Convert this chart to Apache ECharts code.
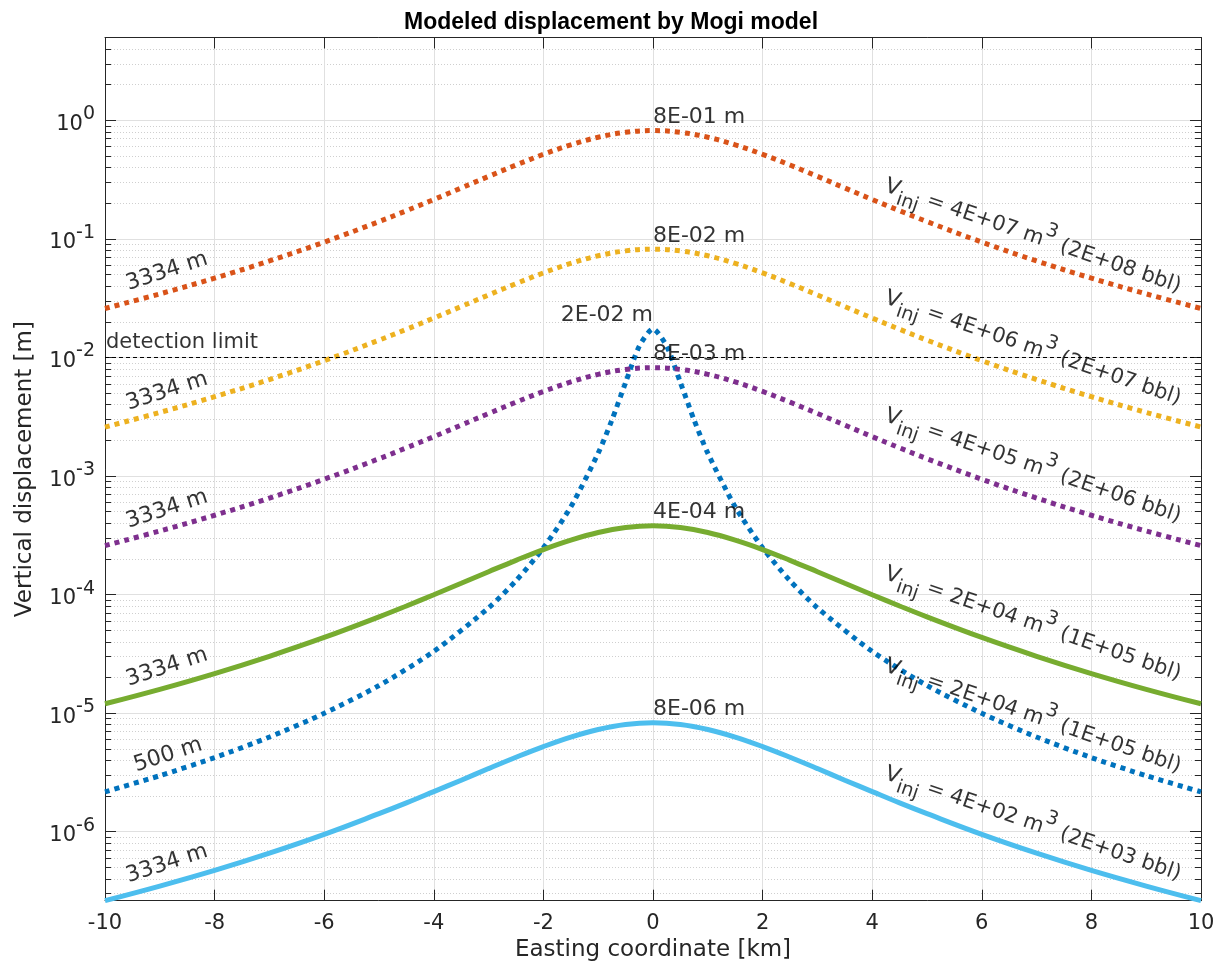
<!DOCTYPE html>
<html>
<head>
<meta charset="utf-8">
<title>Modeled displacement by Mogi model</title>
<script src="https://cdn.jsdelivr.net/npm/echarts@6/dist/echarts.min.js"></script>
<style>
  html, body { margin: 0; padding: 0; background: #fff; }
  #chart { width: 1222px; height: 968px; }
</style>
</head>
<body>
<div id="chart"></div>
<script>
// easting coordinate [km]
const eastingKm = [-10, -9, -8, -7, -6, -5, -4.5, -4, -3.5, -3, -2.5, -2, -1.5, -1, -0.5, 0,
  0.5, 1, 1.5, 2, 2.5, 3, 3.5, 4, 4.5, 5, 6, 7, 8, 9, 10];
const eastingKmShallow = [-10, -9, -8, -7, -6, -5, -4, -3, -2.5, -2, -1.5, -1, -0.75, -0.5, -0.25, 0,
  0.25, 0.5, 0.75, 1, 1.5, 2, 2.5, 3, 4, 5, 6, 7, 8, 9, 10];

// vertical displacement [m] (source depth 3334 m)
const uzVol4e7 = [0.0259, 0.0344, 0.0467, 0.0652, 0.0940, 0.140, 0.173, 0.215, 0.269, 0.337, 0.420, 0.517,
  0.622, 0.721, 0.793, 0.82, 0.793, 0.721, 0.622, 0.517, 0.420, 0.337, 0.269, 0.215, 0.173, 0.140,
  0.0940, 0.0652, 0.0467, 0.0344, 0.0259];
const uzVol4e6 = [0.00259, 0.00344, 0.00467, 0.00652, 0.00940, 0.0140, 0.0173, 0.0215, 0.0269, 0.0337, 0.0420, 0.0517,
  0.0622, 0.0721, 0.0793, 0.082, 0.0793, 0.0721, 0.0622, 0.0517, 0.0420, 0.0337, 0.0269, 0.0215, 0.0173, 0.0140,
  0.00940, 0.00652, 0.00467, 0.00344, 0.00259];
const uzVol4e5 = [2.59e-4, 3.44e-4, 4.67e-4, 6.52e-4, 9.40e-4, 1.40e-3, 1.73e-3, 2.15e-3, 2.69e-3, 3.37e-3, 4.20e-3, 5.17e-3,
  6.22e-3, 7.21e-3, 7.93e-3, 8.2e-3, 7.93e-3, 7.21e-3, 6.22e-3, 5.17e-3, 4.20e-3, 3.37e-3, 2.69e-3, 2.15e-3, 1.73e-3, 1.40e-3,
  9.40e-4, 6.52e-4, 4.67e-4, 3.44e-4, 2.59e-4];
const uzVol2e4 = [1.20e-5, 1.59e-5, 2.16e-5, 3.02e-5, 4.35e-5, 6.49e-5, 8.02e-5, 9.98e-5, 1.247e-4, 1.56e-4, 1.946e-4, 2.40e-4,
  2.88e-4, 3.34e-4, 3.675e-4, 3.8e-4, 3.675e-4, 3.34e-4, 2.88e-4, 2.40e-4, 1.946e-4, 1.56e-4, 1.247e-4, 9.98e-5, 8.02e-5, 6.49e-5,
  4.35e-5, 3.02e-5, 2.16e-5, 1.59e-5, 1.20e-5];
const uzVol4e2 = [2.62e-7, 3.48e-7, 4.72e-7, 6.60e-7, 9.51e-7, 1.42e-6, 1.75e-6, 2.18e-6, 2.72e-6, 3.41e-6, 4.25e-6, 5.23e-6,
  6.29e-6, 7.29e-6, 8.03e-6, 8.3e-6, 8.03e-6, 7.29e-6, 6.29e-6, 5.23e-6, 4.25e-6, 3.41e-6, 2.72e-6, 2.18e-6, 1.75e-6, 1.42e-6,
  9.51e-7, 6.60e-7, 4.72e-7, 3.48e-7, 2.62e-7];
// source depth 500 m
const uzShallow2e4 = [2.17e-6, 2.97e-6, 4.22e-6, 6.29e-6, 9.97e-6, 1.71e-5, 3.32e-5, 7.73e-5, 1.31e-4, 2.48e-4,
  5.50e-4, 1.56e-3, 2.97e-3, 6.15e-3, 1.245e-2, 1.74e-2, 1.245e-2, 6.15e-3, 2.97e-3, 1.56e-3, 5.50e-4,
  2.48e-4, 1.31e-4, 7.73e-5, 3.32e-5, 1.71e-5, 9.97e-6, 6.29e-6, 4.22e-6, 2.97e-6, 2.17e-6];

const detectionLimit = 0.01;

const yMajorTicks = [1e-6, 1e-5, 1e-4, 1e-3, 1e-2, 1e-1, 1];
const yMinorSteps = [2, 3, 4, 5, 6, 7, 8, 9];
const yMin = 2.62e-7;
const yMax = 5;

// text labels: [x km, y m]
const depthLabels = [
  { text: '3334 m', at: [-8.87, 0.0531] },
  { text: '3334 m', at: [-8.87, 0.00518] },
  { text: '3334 m', at: [-8.87, 5.24e-4] },
  { text: '3334 m', at: [-8.87, 2.44e-5] },
  { text: '500 m', at: [-8.85, 4.43e-6] },
  { text: '3334 m', at: [-8.87, 5.36e-7] }
];
const volumeLabels = [
  { m3: '4E+07', bbl: '2E+08', at: [6.93, 0.105] },
  { m3: '4E+06', bbl: '2E+07', at: [6.93, 0.01193] },
  { m3: '4E+05', bbl: '2E+06', at: [6.93, 1.21e-3] },
  { m3: '2E+04', bbl: '1E+05', at: [6.93, 5.65e-5] },
  { m3: '2E+04', bbl: '1E+05', at: [6.93, 9.4e-6] },
  { m3: '4E+02', bbl: '2E+03', at: [6.93, 1.16e-6] }
];
const peakLabels = [
  { text: '8E-01 m', at: [0, 1.054], side: 'right' },
  { text: '8E-02 m', at: [0, 0.1048], side: 'right' },
  { text: '2E-02 m', at: [0, 0.02254], side: 'left' },
  { text: '8E-03 m', at: [0, 0.01062], side: 'right' },
  { text: '4E-04 m', at: [0, 4.91e-4], side: 'right' },
  { text: '8E-06 m', at: [0, 1.08e-5], side: 'right' }
];

const FONT = 'DejaVu Sans';
const AXIS_COLOR = '#262626';

let yMinorTicks = [];
yMajorTicks.concat([1e-7]).forEach(d => {
  yMinorSteps.forEach(k => {
    const v = k * d;
    if (v >= yMin && v <= yMax) yMinorTicks.push(v);
  });
});

const curves = [
  { x: eastingKmShallow, y: uzShallow2e4, color: '#0072BD', dotted: true, smooth: 0.25 },
  { x: eastingKm, y: uzVol4e7, color: '#D95319', dotted: true, smooth: 0.4 },
  { x: eastingKm, y: uzVol4e6, color: '#EDB120', dotted: true, smooth: 0.4 },
  { x: eastingKm, y: uzVol4e5, color: '#7E2F8E', dotted: true, smooth: 0.4 },
  { x: eastingKm, y: uzVol2e4, color: '#77AC30', dotted: false, smooth: 0.4 },
  { x: eastingKm, y: uzVol4e2, color: '#4DBEEE', dotted: false, smooth: 0.4 }
];

const textItems = [];
depthLabels.forEach(d => textItems.push({
  value: d.at,
  label: { formatter: d.text, position: 'inside', rotate: 18, fontSize: 22 }
}));
volumeLabels.forEach(v => textItems.push({
  value: v.at,
  label: {
    formatter: '{v|V}{sub|inj}{t| = ' + v.m3 + ' m}{sup|3}{t| (' + v.bbl + ' bbl)}',
    position: 'inside',
    rotate: -19
  }
}));
peakLabels.forEach(p => textItems.push({
  value: p.at,
  label: { formatter: p.text, position: p.side, distance: 0, fontSize: 22 }
}));
textItems.push({
  value: [-10, 0.01327],
  label: { formatter: 'detection limit', position: 'right', distance: 1, fontSize: 21 }
});

const logAxis = {
  type: 'log',
  logBase: 10,
  min: yMin,
  max: yMax,
  axisLine: { show: false, onZero: false },
  axisLabel: { show: false },
  splitLine: { show: false }
};

const myChart = echarts.init(document.getElementById('chart'));
myChart.setOption({
  backgroundColor: '#fff',
  animation: false,
  title: {
    text: 'Modeled displacement by Mogi model',
    left: 'center',
    top: 6,
    textStyle: { fontFamily: 'Liberation Sans', fontWeight: 'bold', fontSize: 23, color: '#000' }
  },
  grid: { left: 105, right: 21, top: 37.5, bottom: 67.3 },
  xAxis: [
    {
      type: 'value',
      min: -10,
      max: 10,
      interval: 2,
      position: 'bottom',
      name: 'Easting coordinate [km]',
      nameLocation: 'middle',
      nameGap: 34,
      nameTextStyle: { fontFamily: FONT, fontSize: 23, color: AXIS_COLOR },
      axisLine: { show: true, onZero: false, lineStyle: { color: AXIS_COLOR, width: 1 } },
      axisTick: { inside: true, length: 11, lineStyle: { color: AXIS_COLOR } },
      axisLabel: { margin: 12, fontFamily: FONT, fontSize: 21, color: AXIS_COLOR },
      splitLine: { show: true, lineStyle: { color: '#e0e0e0', width: 1 } }
    },
    {
      type: 'value',
      min: -10,
      max: 10,
      interval: 2,
      position: 'top',
      axisLine: { show: true, onZero: false, lineStyle: { color: AXIS_COLOR, width: 1 } },
      axisTick: { inside: true, length: 11, lineStyle: { color: AXIS_COLOR } },
      axisLabel: { show: false },
      splitLine: { show: false }
    }
  ],
  yAxis: [
    {
      ...logAxis,
      position: 'left',
      name: 'Vertical displacement [m]',
      nameLocation: 'middle',
      nameGap: 68,
      nameTextStyle: { fontFamily: FONT, fontSize: 23, color: AXIS_COLOR },
      axisLine: { show: true, onZero: false, lineStyle: { color: AXIS_COLOR, width: 1 } },
      axisTick: { inside: true, length: 11, customValues: yMajorTicks, lineStyle: { color: AXIS_COLOR } },
      axisLabel: {
        show: true,
        margin: 10,
        customValues: yMajorTicks,
        formatter: v => '{b|10}{s|' + Math.round(Math.log10(v)) + '}',
        rich: {
          b: { fontFamily: FONT, fontSize: 21, color: AXIS_COLOR, padding: [8, 0, 0, 0] },
          s: { fontFamily: FONT, fontSize: 19, color: AXIS_COLOR, padding: [0, 0, 12, 0] }
        }
      },
      splitLine: { show: true, lineStyle: { color: '#e0e0e0', width: 1 } }
    },
    {
      ...logAxis,
      position: 'left',
      axisTick: { show: true, inside: true, length: 6, customValues: yMinorTicks, lineStyle: { color: AXIS_COLOR } },
      splitLine: { show: true, lineStyle: { color: '#cfcfcf', width: 1, type: [1, 2] } }
    },
    {
      ...logAxis,
      position: 'right',
      axisLine: { show: true, onZero: false, lineStyle: { color: AXIS_COLOR, width: 1 } },
      axisTick: { show: true, inside: true, length: 11, customValues: yMajorTicks, lineStyle: { color: AXIS_COLOR } }
    },
    {
      ...logAxis,
      position: 'right',
      axisTick: { show: true, inside: true, length: 6, customValues: yMinorTicks, lineStyle: { color: AXIS_COLOR } }
    }
  ],
  series: [
    ...curves.map(c => ({
      type: 'line',
      data: c.x.map((x, i) => [x, c.y[i]]),
      showSymbol: false,
      smooth: c.smooth,
      silent: true,
      lineStyle: {
        color: c.color,
        width: 5,
        type: c.dotted ? [5, 5] : 'solid',
        cap: 'butt'
      }
    })),
    {
      type: 'line',
      data: [[-10, detectionLimit], [10, detectionLimit]],
      showSymbol: false,
      silent: true,
      lineStyle: { color: '#000', width: 1, type: [4, 3] }
    },
    {
      type: 'scatter',
      symbolSize: 0,
      silent: true,
      z: 10,
      data: textItems,
      label: {
        show: true,
        fontFamily: FONT,
        color: '#000',
        rich: {
          v: { fontFamily: FONT, fontSize: 22, color: '#000' },
          t: { fontFamily: FONT, fontSize: 21, color: '#000' },
          sub: { fontFamily: FONT, fontSize: 19, color: '#000', padding: [18, 0, 0, 0] },
          sup: { fontFamily: FONT, fontSize: 19, color: '#000', padding: [0, 0, 22, 0] }
        }
      }
    }
  ]
});
</script>
</body>
</html>
